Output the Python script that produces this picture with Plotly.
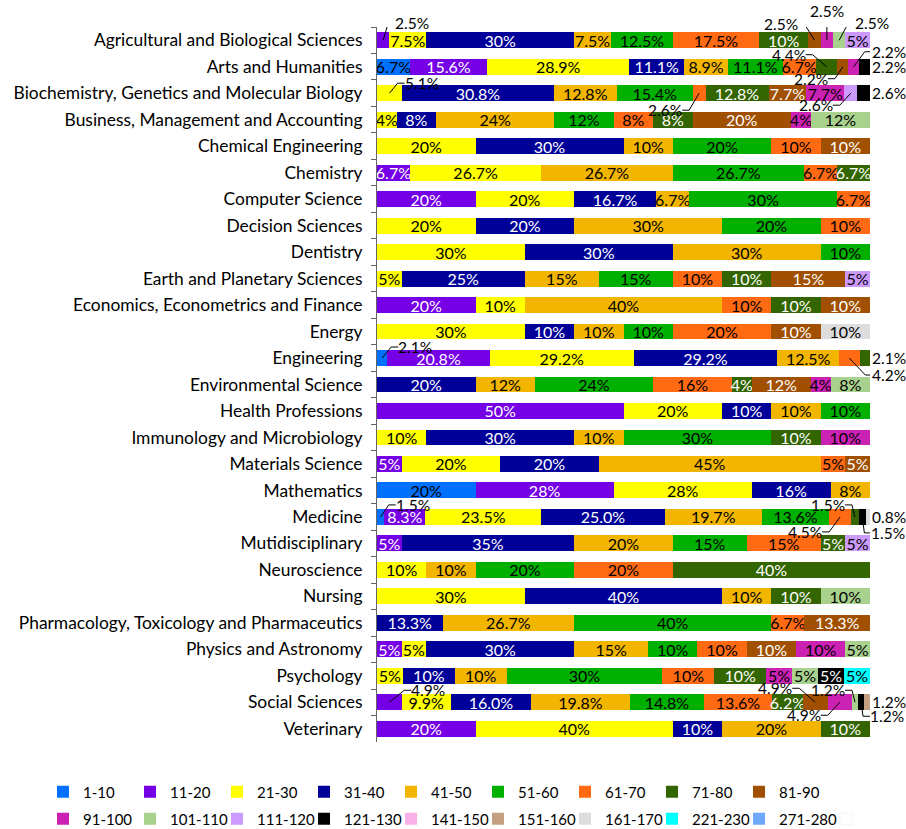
import plotly.graph_objects as go

subjects = [
    "Agricultural and Biological Sciences", "Arts and Humanities",
    "Biochemistry, Genetics and Molecular Biology", "Business, Management and Accounting",
    "Chemical Engineering", "Chemistry", "Computer Science", "Decision Sciences",
    "Dentistry", "Earth and Planetary Sciences", "Economics, Econometrics and Finance",
    "Energy", "Engineering", "Environmental Science", "Health Professions",
    "Immunology and Microbiology", "Materials Science", "Mathematics", "Medicine",
    "Mutidisciplinary", "Neuroscience", "Nursing",
    "Pharmacology, Toxicology and Pharmaceutics", "Physics and Astronomy",
    "Psychology", "Social Sciences", "Veterinary",
]

series_names = ["1-10", "11-20", "21-30", "31-40", "41-50", "51-60", "61-70", "71-80", "81-90",
                "91-100", "101-110", "111-120", "121-130", "141-150", "151-160", "161-170",
                "221-230", "271-280"]

#            Agr  Art  Bio  Bus  ChE  Chm  CS   Dec  Den  Ear  Eco  Ene  Eng  Env  Hea  Imm  Mat  Mth  Med  Mul  Neu  Nur  Pha  Phy  Psy  Soc  Vet
r1_10    = [0,   6.7, 0,   0,   0,   0,   0,   0,   0,   0,   0,   0,   2.1, 0,   0,   0,   0,   20,  1.5, 0,   0,   0,   0,   0,   0,   0,   0]
r11_20   = [2.5, 15.6,0,   0,   0,   6.7, 20,  0,   0,   0,   20,  0,   20.8,0,   50,  0,   5,   28,  8.3, 5,   0,   0,   0,   5,   0,   4.9, 20]
r21_30   = [7.5, 28.9,5.1, 4,   20,  26.7,20,  20,  30,  5,   10,  30,  29.2,0,   20,  10,  20,  28,  23.5,0,   10,  30,  0,   5,   5,   9.9, 40]
r31_40   = [30,  11.1,30.8,8,   30,  0,   16.7,20,  30,  25,  0,   10,  29.2,20,  10,  30,  20,  16,  25.0,35,  0,   40,  13.3,30,  10,  16.0,10]
r41_50   = [7.5, 8.9, 12.8,24,  10,  26.7,6.7, 30,  30,  15,  40,  10,  12.5,12,  10,  10,  45,  8,   19.7,20,  10,  10,  26.7,15,  10,  19.8,20]
r51_60   = [12.5,11.1,15.4,12,  20,  26.7,30,  20,  10,  15,  0,   10,  0,   24,  10,  30,  0,   0,   13.6,15,  20,  0,   40,  10,  30,  14.8,0]
r61_70   = [17.5,6.7, 2.6, 8,   10,  6.7, 6.7, 10,  0,   10,  10,  20,  4.2, 16,  0,   0,   5,   0,   4.5, 15,  20,  0,   6.7, 10,  10,  13.6,0]
r71_80   = [10,  4.4, 12.8,8,   0,   6.7, 0,   0,   0,   10,  10,  0,   2.1, 4,   0,   10,  0,   0,   1.5, 5,   40,  10,  0,   0,   10,  6.2, 10]
r81_90   = [2.5, 2.2, 7.7, 20,  10,  0,   0,   0,   0,   15,  10,  10,  0,   12,  0,   0,   5,   0,   0,   0,   0,   0,   13.3,10,  0,   4.9, 0]
r91_100  = [2.5, 2.2, 7.7, 4,   0,   0,   0,   0,   0,   0,   0,   0,   0,   4,   0,   10,  0,   0,   0,   0,   0,   0,   0,   10,  5,   4.9, 0]
r101_110 = [2.5, 0,   0,   12,  0,   0,   0,   0,   0,   0,   0,   0,   0,   8,   0,   0,   0,   0,   0,   0,   0,   10,  0,   5,   5,   1.2, 0]
r111_120 = [5,   0,   2.6, 0,   0,   0,   0,   0,   0,   5,   0,   0,   0,   0,   0,   0,   0,   0,   0,   5,   0,   0,   0,   0,   0,   0,   0]
r121_130 = [0,   2.2, 2.6, 0,   0,   0,   0,   0,   0,   0,   0,   0,   0,   0,   0,   0,   0,   0,   1.5, 0,   0,   0,   0,   0,   5,   1.2, 0]
r141_150 = [0] * 27
r151_160 = [0,   0,   0,   0,   0,   0,   0,   0,   0,   0,   0,   0,   0,   0,   0,   0,   0,   0,   0,   0,   0,   0,   0,   0,   0,   1.2, 0]
r161_170 = [0,   0,   0,   0,   0,   0,   0,   0,   0,   0,   0,   10,  0,   0,   0,   0,   0,   0,   0.8, 0,   0,   0,   0,   0,   0,   0,   0]
r221_230 = [0,   0,   0,   0,   0,   0,   0,   0,   0,   0,   0,   0,   0,   0,   0,   0,   0,   0,   0,   0,   0,   0,   0,   0,   5,   0,   0]
r271_280 = [0] * 27

series_values = [r1_10, r11_20, r21_30, r31_40, r41_50, r51_60, r61_70, r71_80, r81_90,
                 r91_100, r101_110, r111_120, r121_130, r141_150, r151_160, r161_170,
                 r221_230, r271_280]

one_decimal_rows = ["Medicine", "Social Sciences"]

# ---- styles ----
colors = ["#0070FF", "#7500E6", "#FFFF00", "#000099", "#F2B600", "#00B000", "#FF6A13", "#336600",
          "#A05000", "#CC22B4", "#A9D18E", "#CC99FF", "#000000", "#F9B0E6", "#C4A080", "#DDDDDD",
          "#00FFFF", "#6FA8FF"]
text_colors = ["black", "white", "black", "white", "black", "black", "black", "white", "white",
               "black", "black", "black", "white", "black", "black", "black", "black", "black"]

FONT = "Lato"

# outside labels: (subject, series, dx px, dy px of label centre, screen coords);
# dy == 0 -> right of the bar, no leader line
outside = [
    ("Agricultural and Biological Sciences", "11-20", 29, -17),
    ("Agricultural and Biological Sciences", "81-90", -34, -16),
    ("Agricultural and Biological Sciences", "91-100", 0, -29),
    ("Agricultural and Biological Sciences", "101-110", 33, -17),
    ("Arts and Humanities", "71-80", -38, -12),
    ("Arts and Humanities", "81-90", -32, 12),
    ("Arts and Humanities", "91-100", 35, -15),
    ("Arts and Humanities", "121-130", 0, 0),
    ("Biochemistry, Genetics and Molecular Biology", "21-30", 32, -10),
    ("Biochemistry, Genetics and Molecular Biology", "61-70", -34, 17),
    ("Biochemistry, Genetics and Molecular Biology", "111-120", -35, 12),
    ("Biochemistry, Genetics and Molecular Biology", "121-130", 0, 0),
    ("Engineering", "1-10", 33, -11),
    ("Engineering", "61-70", 40, 17),
    ("Engineering", "71-80", 0, 0),
    ("Medicine", "1-10", 32, -12),
    ("Medicine", "61-70", -35, 15),
    ("Medicine", "71-80", -27, -12),
    ("Medicine", "121-130", 26, 16),
    ("Medicine", "161-170", 0, 0),
    ("Social Sciences", "11-20", 39, -12),
    ("Social Sciences", "81-90", -40, -14),
    ("Social Sciences", "91-100", -36, 13),
    ("Social Sciences", "101-110", -27, -12),
    ("Social Sciences", "121-130", 26, 14),
    ("Social Sciences", "151-160", 0, 0),
]
outside_keys = {(s, n) for s, n, _, _ in outside}
LABEL_HALF_W = 17
TAIL = 7


def fmt(subject, v):
    if subject in one_decimal_rows:
        return f"{v:.1f}%"
    return f"{v:g}%"


fig = go.Figure()
for k, name in enumerate(series_names):
    vals = series_values[k]
    texts = []
    for i, s in enumerate(subjects):
        v = vals[i]
        if v <= 0 or (s, name) in outside_keys:
            texts.append("")
        else:
            texts.append(fmt(s, v))
    legend_id = "legend" if k < 9 else "legend2"
    fig.add_trace(go.Bar(
        name=name, y=subjects, x=vals, orientation="h",
        marker=dict(color=colors[k], line=dict(width=0)),
        text=texts, textposition="inside", insidetextanchor="middle",
        textangle=0, constraintext="none",
        insidetextfont=dict(family=FONT, size=16, color=text_colors[k]),
        legend=legend_id, hoverinfo="name+x",
    ))

# blank spacer entry so the last legend label is not clipped by the legend box
fig.add_trace(go.Bar(name=" ", y=[None], x=[None], orientation="h",
                     marker=dict(color="rgba(0,0,0,0)"), legend="legend2",
                     hoverinfo="skip", showlegend=True))

# outside labels with elbow leader lines, anchored on the normalized cumulative data
totals = [sum(series_values[k][i] for k in range(len(series_names))) for i in range(len(subjects))]
annotations = []
shapes = []
for s, n, dx, dy in outside:
    i = subjects.index(s)
    k = series_names.index(n)
    before = sum(series_values[j][i] for j in range(k))
    v = series_values[k][i]
    mid = (before + v / 2) / totals[i] * 100
    txt = fmt(s, v)
    lab_font = dict(family=FONT, size=15.5, color="black")
    if dy == 0:
        annotations.append(dict(x=100, y=s, xref="x", yref="y", text=txt, showarrow=False,
                                xanchor="left", xshift=0, font=lab_font))
        continue
    annotations.append(dict(x=mid, y=s, xref="x", yref="y", text=txt, showarrow=False,
                            xshift=dx, yshift=-dy, font=lab_font))
    if dx == 0:
        path = f"M0,{-dy - 9 * (1 if dy < 0 else -1)} L0,0"
    else:
        sgn = 1 if dx > 0 else -1
        edge = dx - sgn * LABEL_HALF_W
        tail = edge - sgn * TAIL
        if tail * sgn < 0:
            tail = 0
        path = f"M{edge},{-dy} L{tail},{-dy} L0,0"
    shapes.append(dict(type="path", xref="x", yref="y", xsizemode="pixel", ysizemode="pixel",
                       xanchor=mid, yanchor=i, path=path,
                       line=dict(color="black", width=1)))

fig.update_layout(
    barmode="stack", barnorm="percent", bargap=0.4,
    width=906, height=829,
    margin=dict(l=377, r=36, t=27, b=87, autoexpand=False),
    paper_bgcolor="white", plot_bgcolor="white",
    font=dict(family=FONT, size=16, color="black"),
    xaxis=dict(visible=False, range=[0, 100]),
    yaxis=dict(autorange="reversed", showline=True, linecolor="#666666", linewidth=1,
               ticks="outside", ticklen=5, tickcolor="#666666", tickson="boundaries",
               ticklabelstandoff=10, tickfont=dict(family=FONT, size=17.4, color="black"),
               showgrid=False),
    legend=dict(orientation="h", x=-0.6775, y=-0.0699, xanchor="left", yanchor="middle",
                entrywidth=42, entrywidthmode="pixels", traceorder="normal",
                font=dict(family=FONT, size=15), itemclick=False),
    legend2=dict(orientation="h", x=-0.6775, y=-0.1078, xanchor="left", yanchor="middle",
                 entrywidth=42, entrywidthmode="pixels", traceorder="normal",
                 font=dict(family=FONT, size=15), itemclick=False),
    annotations=annotations,
    shapes=shapes,
    showlegend=True,
)

fig.write_html("out.html", config={"displayModeBar": False},
               post_script="document.body.style.margin='0';document.body.style.overflow='hidden';")
